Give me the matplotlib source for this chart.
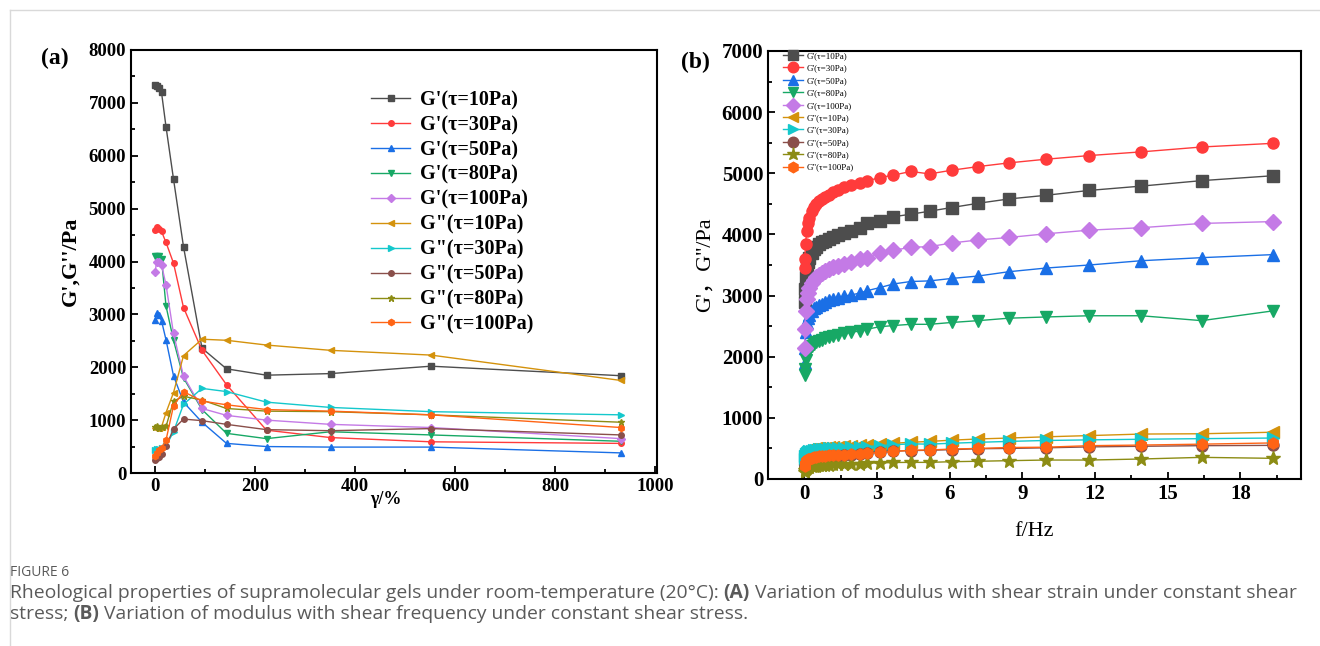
import matplotlib
matplotlib.use("Agg")
import matplotlib.pyplot as plt
from matplotlib.ticker import MultipleLocator
from matplotlib.lines import Line2D

# ---- (a) strain sweep, gamma in %
strain = [0.5, 3, 7, 13, 22, 37, 57, 94, 143, 223, 351, 552, 932]
a_gp10 = [7330, 7320, 7290, 7200, 6550, 5560, 4280, 2360, 1970, 1850, 1880, 2020, 1840]
a_gp30 = [4600, 4650, 4620, 4570, 4360, 3970, 3130, 2320, 1670, 810, 670, 590, 560]
a_gp50 = [2900, 3030, 2990, 2880, 2520, 1840, 1340, 960, 560, 500, 490, 490, 380]
a_gp80 = [4100, 4110, 4100, 4050, 3160, 2510, 1800, 1200, 750, 650, 780, 720, 600]
a_gp100 = [3810, 3990, 4000, 3940, 3560, 2640, 1830, 1220, 1090, 1000, 920, 860, 650]
a_gpp10 = [860, 850, 860, 870, 1140, 1520, 2220, 2530, 2510, 2420, 2320, 2230, 1750]
a_gpp30 = [430, 450, 460, 480, 510, 780, 1300, 1600, 1540, 1340, 1240, 1160, 1100]
a_gpp50 = [250, 280, 310, 350, 510, 830, 1020, 990, 920, 820, 800, 840, 720]
a_gpp80 = [870, 880, 860, 870, 880, 1360, 1450, 1380, 1220, 1170, 1160, 1100, 960]
a_gpp100 = [330, 380, 430, 470, 620, 1270, 1540, 1360, 1290, 1200, 1170, 1100, 860]

# ---- (b) frequency sweep, f in Hz
freq = [0.01, 0.02, 0.05, 0.1, 0.15, 0.2, 0.3, 0.4, 0.5, 0.6, 0.72, 0.85, 1.0, 1.18, 1.39,
        1.64, 1.93, 2.28, 2.59, 3.11, 3.68, 4.39, 5.17, 6.08, 7.18, 8.44, 9.97, 11.76,
        13.9, 16.4, 19.35]
b_gp10 = [2900, 3100, 3300, 3450, 3550, 3620, 3700, 3760, 3800, 3840, 3870, 3900, 3930,
          3960, 3990, 4020, 4060, 4110, 4180, 4220, 4290, 4330, 4380, 4440, 4510, 4580,
          4640, 4720, 4790, 4880, 4960]
b_gp30 = [3450, 3600, 3850, 4050, 4180, 4270, 4380, 4450, 4500, 4540, 4580, 4620, 4650,
          4690, 4730, 4770, 4810, 4840, 4875, 4930, 4970, 5030, 4990, 5050, 5110, 5170,
          5230, 5290, 5350, 5430, 5490]
b_gp50 = [1900, 2150, 2400, 2550, 2630, 2690, 2750, 2790, 2820, 2850, 2870, 2900, 2920,
          2940, 2960, 2990, 3010, 3040, 3080, 3130, 3190, 3230, 3240, 3280, 3320, 3390,
          3450, 3500, 3570, 3620, 3670]
b_gp80 = [1700, 1800, 1950, 2050, 2100, 2130, 2180, 2210, 2240, 2260, 2280, 2300, 2320,
          2340, 2360, 2380, 2400, 2420, 2450, 2490, 2510, 2530, 2530, 2560, 2590, 2630,
          2650, 2670, 2670, 2590, 2750]
b_gp100 = [2150, 2450, 2750, 2950, 3050, 3120, 3200, 3260, 3300, 3340, 3370, 3400, 3430,
           3460, 3490, 3520, 3550, 3590, 3620, 3700, 3740, 3790, 3800, 3860, 3910, 3950,
           4010, 4070, 4110, 4180, 4210]
b_gpp10 = [420, 440, 460, 470, 480, 485, 490, 495, 500, 505, 510, 515, 520, 525, 530, 535,
           540, 550, 560, 575, 585, 600, 615, 635, 655, 670, 690, 710, 735, 740, 765]
b_gpp30 = [330, 370, 410, 430, 445, 455, 465, 475, 480, 485, 490, 495, 500, 505, 510, 515,
           520, 525, 530, 545, 560, 575, 570, 585, 600, 615, 630, 640, 650, 660, 670]
b_gpp50 = [190, 220, 260, 285, 300, 310, 325, 335, 345, 350, 355, 360, 370, 375, 380, 390,
           395, 405, 430, 445, 455, 465, 470, 480, 495, 500, 510, 525, 535, 545, 550]
b_gpp80 = [110, 140, 170, 185, 195, 200, 210, 215, 220, 225, 228, 232, 236, 240, 243, 246,
           250, 253, 260, 262, 270, 272, 272, 283, 290, 300, 310, 310, 327, 354, 338]
b_gpp100 = [220, 250, 290, 310, 325, 335, 350, 360, 365, 370, 375, 380, 385, 390, 395, 400,
            405, 410, 420, 435, 450, 470, 475, 490, 500, 515, 520, 545, 555, 570, 590]

labels = ["G'(τ=10Pa)", "G'(τ=30Pa)", "G'(τ=50Pa)", "G'(τ=80Pa)", "G'(τ=100Pa)",
          'G"(τ=10Pa)', 'G"(τ=30Pa)', 'G"(τ=50Pa)', 'G"(τ=80Pa)', 'G"(τ=100Pa)']
colors = ['#4d4d4d', '#ff3b3b', '#1a6fe6', '#17a865', '#c47ae6',
          '#d4920c', '#14c8cc', '#8a4f4a', '#8c8c14', '#ff6414']
markers = ['s', 'o', '^', 'v', 'D', '<', '>', 'o', '*', 'h']

a_series = [a_gp10, a_gp30, a_gp50, a_gp80, a_gp100,
            a_gpp10, a_gpp30, a_gpp50, a_gpp80, a_gpp100]
b_series = [b_gp10, b_gp30, b_gp50, b_gp80, b_gp100,
            b_gpp10, b_gpp30, b_gpp50, b_gpp80, b_gpp100]

serif = 'Liberation Serif'
plt.rcParams['font.family'] = serif

fig = plt.figure(figsize=(13.2, 6.46), dpi=100)

# thin page frame of the source figure
fig.add_artist(Line2D([10 / 1320, 1], [1 - 10 / 646] * 2, color='#d9d9d9', lw=1))
fig.add_artist(Line2D([10 / 1320] * 2, [0, 1 - 10 / 646], color='#d9d9d9', lw=1))

# ---------------- panel (a)
ax1 = fig.add_axes([131 / 1320, 173 / 646, 526 / 1320, 423 / 646])
for ys, c, m, lab in zip(a_series, colors, markers, labels):
    ms = 4.5 if m in ('*', 'h') else 4
    ax1.plot(strain, ys, color=c, lw=1, marker=m, ms=ms, label=lab)
ax1.set_xlim(-48, 1004)
ax1.set_ylim(0, 8000)
ax1.xaxis.set_major_locator(MultipleLocator(200))
ax1.xaxis.set_minor_locator(MultipleLocator(100))
ax1.yaxis.set_major_locator(MultipleLocator(1000))
ax1.yaxis.set_minor_locator(MultipleLocator(500))
ax1.tick_params(which='both', direction='in', labelsize=13.5, width=1.3)
ax1.tick_params(which='major', length=5)
ax1.tick_params(which='minor', length=3)
for lbl in ax1.get_xticklabels() + ax1.get_yticklabels():
    lbl.set_fontweight('bold')
for sp in ax1.spines.values():
    sp.set_linewidth(1.5)
ax1.set_xlabel('γ/%', fontsize=13, fontweight='bold')
ax1.xaxis.set_label_coords(0.485, -0.042)
ax1.set_ylabel("G',G''/Pa", fontsize=16, fontweight='bold', labelpad=6)
ax1.legend(loc='upper left', bbox_to_anchor=(0.422, 0.948), frameon=False,
           prop={'family': serif, 'weight': 'bold', 'size': 14.5},
           handlelength=1.95, labelspacing=0.245, handletextpad=0.5)
fig.text(55 / 1320, 1 - 58 / 646, '(a)', fontsize=17, fontweight='bold',
         ha='center', va='center')

# ---------------- panel (b)
ax2 = fig.add_axes([768 / 1320, 167 / 646, 533 / 1320, 428 / 646])
for ys, c, m, lab in zip(b_series, colors, markers, labels):
    ms = 10 if m == '*' else 8
    ax2.plot(freq, ys, color=c, lw=1, marker=m, ms=ms, label=lab)
ax2.set_xlim(-1.5, 20.5)
ax2.set_ylim(0, 7000)
ax2.xaxis.set_major_locator(MultipleLocator(3))
ax2.xaxis.set_minor_locator(MultipleLocator(1.5))
ax2.yaxis.set_major_locator(MultipleLocator(1000))
ax2.yaxis.set_minor_locator(MultipleLocator(500))
ax2.tick_params(which='both', direction='in', labelsize=15, width=1.3)
ax2.tick_params(which='major', length=5)
ax2.tick_params(which='minor', length=3)
for lbl in ax2.get_xticklabels() + ax2.get_yticklabels():
    lbl.set_fontweight('bold')
for sp in ax2.spines.values():
    sp.set_linewidth(1.5)
ax2.set_xlabel('f/Hz', fontsize=16, labelpad=13)
ax2.set_ylabel("G'，G''/Pa", fontsize=16, family=[serif, 'Noto Sans CJK SC'], labelpad=5)
ax2.legend(loc='upper left', bbox_to_anchor=(0.026, 1.0), frameon=False,
           prop={'family': serif, 'size': 6.5}, handlelength=2.2, borderpad=0.1,
           labelspacing=0.45, handletextpad=0.4, borderaxespad=0.0, markerscale=0.95)
fig.text(695 / 1320, 1 - 62 / 646, '(b)', fontsize=17, fontweight='bold',
         ha='center', va='center')

# ---------------- caption
cap_color = '#5a5a5a'
cap_font = 'Open Sans'
fig.text(10 / 1320, 1 - 572 / 646, 'FIGURE 6', fontsize=10, color=cap_color,
         family=cap_font, va='center')

renderer = fig.canvas.get_renderer()


def put_runs(x, y, runs):
    for s, w in runs:
        t = fig.text(x, y, s, fontsize=13.85, color=cap_color, family=cap_font,
                     fontweight=w, va='center')
        bb = t.get_window_extent(renderer=renderer)
        x += bb.width / fig.bbox.width


put_runs(10 / 1320, 1 - 593 / 646,
         [('Rheological properties of supramolecular gels under room-temperature (20°C): ', 'normal'),
          ('(A)', 'bold'),
          (' Variation of modulus with shear strain under constant shear', 'normal')])
put_runs(10 / 1320, 1 - 614 / 646,
         [('stress; ', 'normal'), ('(B)', 'bold'),
          (' Variation of modulus with shear frequency under constant shear stress.', 'normal')])

fig.savefig('out.png', dpi=100)
